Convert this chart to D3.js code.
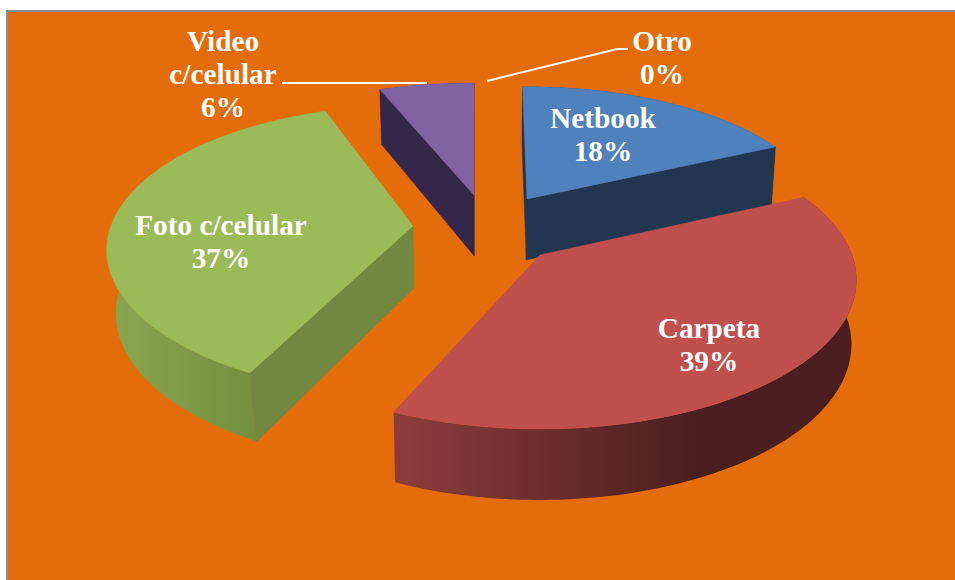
<!DOCTYPE html>
<html><head><meta charset="utf-8">
<script src="https://cdn.jsdelivr.net/npm/d3@7"></script>
<style>html,body{margin:0;padding:0;background:#fff}svg{display:block}
text{font-family:"Liberation Serif",serif;font-weight:700;font-size:29.3px;fill:#fff;text-anchor:middle}</style>
</head><body><svg id="c" width="955" height="580"></svg>
<script>
const categories = ["Netbook","Carpeta","Foto c/celular","Video c/celular","Otro"];
const values = [18,39,37,6,0];
const percentLabels = ["18%","39%","37%","6%","0%"];
const topColors = ["#4f81bd","#c0504d","#9bbb59","#8064a2","#f79646"];

const svg = d3.select("#c");
svg.append("rect").attr("x",7).attr("y",11).attr("width",960).attr("height",590).attr("fill","#e46c0a").attr("stroke","#8c8c8c").attr("stroke-width",2);

// layout of the perspective pie, one rim per exploded slice
const apex=[[527,199],[540,255],[413,226],[474,195],[481,195]];
const rimR=[294,312,302,308,308];
const rimRY=[131,145,141,136.6,136.6];
const rimK=[6,6,6,4.55,4.55];
const nudge=[[-1,0],[0,-1.8],[2.2,2],[0,0],[0,0]]; // degrees, start and end
const depthByY=d3.scaleLinear().domain([90,200,430]).range([55,61,71]);
const shiftByX=d3.scaleLinear().domain([107,248,400,776,856]).range([9,7,1,-4,-5]);
const pie=d3.pie().value(d=>d).sort(null).startAngle(-Math.PI/2).endAngle(1.5*Math.PI);
const arcs=pie(values);
const rad=d=>d*Math.PI/180;

function rimPoint(i,a){
  const X=Math.cos(a),Y=Math.sin(a),s=rimK[i]/(rimK[i]-Y);
  return [apex[i][0]+rimR[i]*X*s, apex[i][1]+rimRY[i]*Y*s];
}
function low(p){return [p[0]+shiftByX(p[0]),p[1]+depthByY(p[1])];}
function rim(i,a0,a1){
  const n=Math.max(2,Math.ceil(Math.abs(a1-a0)/0.02));
  return d3.range(n+1).map(k=>rimPoint(i,a0+(a1-a0)*k/n));
}
const line=d3.line();
const defs=svg.append("defs");
function grad(id,x1,x2,stops){
  const g=defs.append("linearGradient").attr("id",id).attr("gradientUnits","userSpaceOnUse")
    .attr("x1",x1).attr("x2",x2).attr("y1",0).attr("y2",0);
  stops.forEach(s=>g.append("stop").attr("offset",s[0]).attr("stop-color",s[1]));
}
grad("g0",520,780,[[0,"#21364f"],[1,"#21364f"]]);
grad("g1",394,856,[[0,"#8c3d3b"],[0.3,"#6f2f2e"],[0.66,"#4a1e1e"],[1,"#4a1e1e"]]);
grad("g2",107,255,[[0,"#8aa64f"],[1,"#74903f"]]);
grad("g3",380,475,[[0,"#35274a"],[1,"#35274a"]]);
const faceColors=["#21364f","#4a1e1e","#70883f","#35274a"];

[3,2,0,1].forEach(i=>{
  const a0=arcs[i].startAngle+rad(nudge[i][0]), a1=arcs[i].endAngle+rad(nudge[i][1]), g=svg.append("g");
  const arcTop=rim(i,a0,a1), c=apex[i];
  g.append("path").attr("d",line(arcTop.concat(arcTop.map(low).reverse()))+"Z").attr("fill",`url(#g${i})`);
  [[a0,-Math.cos(a0)],[a1,Math.cos(a1)]].forEach(([ang,vis])=>{
    if(vis<-0.02) return;
    const p=rimPoint(i,ang);
    g.append("path").attr("d",line([c,p,low(p),low(c)])+"Z").attr("fill",faceColors[i])
      .attr("stroke",faceColors[i]).attr("stroke-width",0.5);
  });
  g.append("path").attr("d",line([c].concat(arcTop))+"Z").attr("fill",topColors[i])
    .attr("stroke",topColors[i]).attr("stroke-width",0.5);
});

// leader lines
const leader=d3.line();
svg.append("path").attr("d",leader([[282,83],[427,83]])).attr("fill","none").attr("stroke","#fff").attr("stroke-width",2);
svg.append("path").attr("d",leader([[487,81],[617,49],[628,49]])).attr("fill","none").attr("stroke","#fff").attr("stroke-width",2);

// labels
const labelRows=[
  {x:603,y:128,lines:[categories[0],percentLabels[0]]},
  {x:709,y:338,lines:[categories[1],percentLabels[1]]},
  {x:221,y:235,lines:[categories[2],percentLabels[2]]},
  {x:223,y:51,lines:["Video","c/celular",percentLabels[3]]},
  {x:662,y:51,lines:[categories[4],percentLabels[4]]}
];
labelRows.forEach(l=>l.lines.forEach((t,k)=>{
  svg.append("text").attr("x",l.x).attr("y",l.y+k*33).text(t);
}));
</script></body></html>
